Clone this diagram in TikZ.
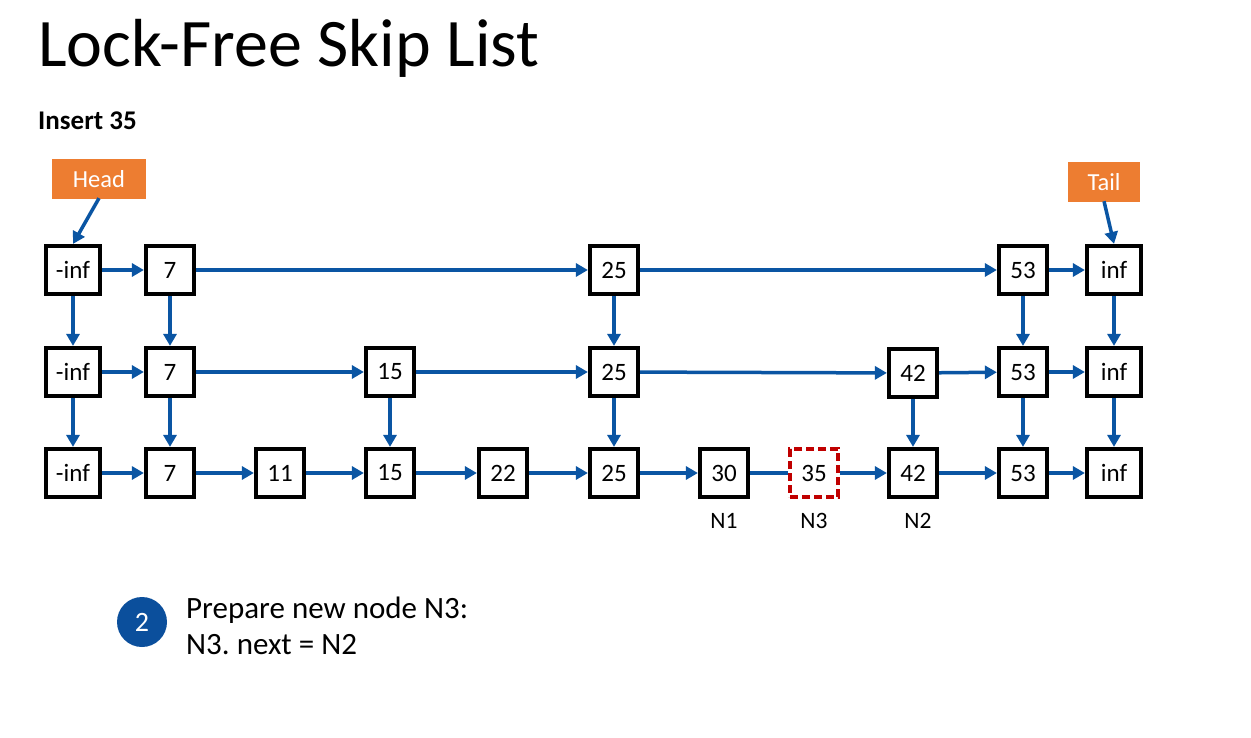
\documentclass[tikz,border=0pt]{standalone}
\usepackage{fontspec}
\setmainfont{Carlito}
\usetikzlibrary{arrows.meta}
\definecolor{arrowblue}{HTML}{0A55A3}
\definecolor{circblue}{HTML}{0B4F9C}
\definecolor{headorange}{HTML}{ED7D31}
\definecolor{darkred}{HTML}{C00000}
\begin{document}
\frenchspacing
\begin{tikzpicture}[x=1pt,y=-1pt,
  box/.style={draw=black,line width=4.2pt,fill=white,inner sep=0pt,minimum width=48pt,minimum height=48pt,font=\fontsize{25}{28}\selectfont},
  wbox/.style={box,minimum width=54pt},
  newbox/.style={box,draw=darkred,dash pattern=on 8pt off 4pt,line width=3.5pt},
  lbl/.style={draw=none,fill=headorange,text=white,inner sep=0pt,minimum height=40pt,font=\fontsize{24.5}{28}\selectfont},
  conn/.style={draw=arrowblue,line width=3.5pt,-{Triangle[length=12pt,width=13pt]}},
  plain/.style={draw=arrowblue,line width=3.5pt},
  nlab/.style={font=\fontsize{23.5}{28}\selectfont,inner sep=0pt},
  txt/.style={font=\fontsize{31}{36}\selectfont,inner sep=0pt,anchor=base west}]
\useasboundingbox (0,0) rectangle (1251,737);
\fill[white] (0,0) rectangle (1251,737);

\node[inner sep=0pt,anchor=base west,font=\fontsize{68}{72}\selectfont] (title) at (38,66) {Lock-Free Skip List};
\node[inner sep=0pt,anchor=base west,font=\fontsize{27}{30}\selectfont\bfseries] (ins) at (38,129) {Insert 35};

\node[lbl,minimum width=94pt] (head) at (99,179) {Head};
\node[lbl,minimum width=72pt] (tail) at (1104,182) {Tail};

% row 1
\node[wbox] (a1) at (73,270) {-inf};
\node[box] (b1) at (170,270) {7};
\node[box] (f1) at (614,270) {25};
\node[box] (j1) at (1023,270) {53};
\node[wbox] (k1) at (1114,270) {inf};
% row 2
\node[wbox] (a2) at (73,372) {-inf};
\node[box] (b2) at (170,372) {7};
\node[box] (d2) at (390,372) {15};
\node[box] (f2) at (614,372) {25};
\node[box] (i2) at (913,373) {42};
\node[box] (j2) at (1023,372) {53};
\node[wbox] (k2) at (1114,372) {inf};
% row 3
\node[wbox] (a3) at (73,473) {-inf};
\node[box] (b3) at (170,473) {7};
\node[box] (c3) at (280,473) {11};
\node[box] (d3) at (390,473) {15};
\node[box] (e3) at (503,473) {22};
\node[box] (f3) at (614,473) {25};
\node[box] (g3) at (724,473) {30};
\node[newbox] (h3) at (814,473) {35};
\node[box] (i3) at (913,473) {42};
\node[box] (j3) at (1023,473) {53};
\node[wbox] (k3) at (1114,473) {inf};

\node[nlab] (n1) at (724,521) {N1};
\node[nlab] (n3) at (814,521) {N3};
\node[nlab] (n2) at (918,521) {N2};

% head / tail pointers
\draw[conn] ([yshift=1pt]head.south) -- (a1.north);
\draw[conn] ([yshift=1pt]tail.south) -- (k1.north);

% horizontal links
\draw[conn] (a1) -- (b1);
\draw[conn] (b1) -- (f1);
\draw[conn] (f1) -- (j1);
\draw[conn] (j1) -- (k1);

\draw[conn] (a2) -- (b2);
\draw[conn] (b2) -- (d2);
\draw[conn] (d2) -- (f2);
\draw[conn] (f2) -- (i2);
\draw[conn] (i2) -- (j2);
\draw[conn] (j2) -- (k2);

\draw[conn] (a3) -- (b3);
\draw[conn] (b3) -- (c3);
\draw[conn] (c3) -- (d3);
\draw[conn] (d3) -- (e3);
\draw[conn] (e3) -- (f3);
\draw[conn] (f3) -- (g3);
\draw[plain] (g3) -- (h3);
\draw[conn] (h3) -- (i3);
\draw[conn] (i3) -- (j3);
\draw[conn] (j3) -- (k3);

% vertical links
\draw[conn] (a1) -- (a2);
\draw[conn] (a2) -- (a3);
\draw[conn] (b1) -- (b2);
\draw[conn] (b2) -- (b3);
\draw[conn] (d2) -- (d3);
\draw[conn] (f1) -- (f2);
\draw[conn] (f2) -- (f3);
\draw[conn] (i2) -- (i3);
\draw[conn] (j1) -- (j2);
\draw[conn] (j2) -- (j3);
\draw[conn] (k1) -- (k2);
\draw[conn] (k2) -- (k3);

% step note
\node[circle,fill=circblue,minimum size=50pt,inner sep=0pt,text=white,font=\fontsize{28}{30}\selectfont] (step2) at (142,622) {2};
\node[txt] (l1) at (186,618) {Prepare new node N3:};
\node[txt] (l2) at (186,654) {N3. next = N2};
\end{tikzpicture}
\end{document}
